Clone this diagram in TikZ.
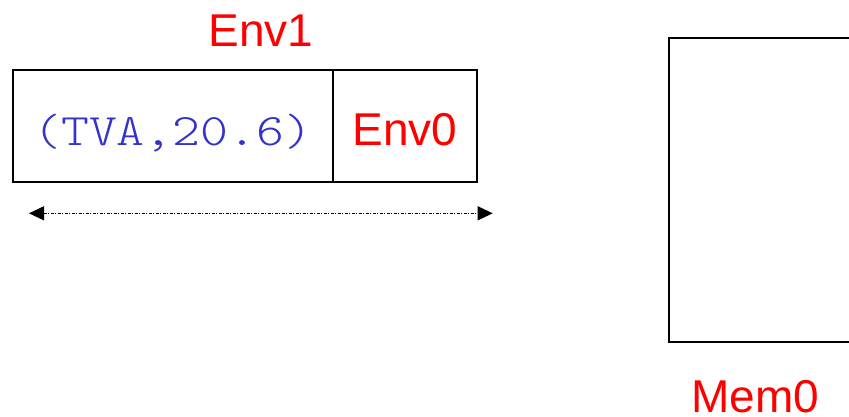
\documentclass[tikz,border=0pt]{standalone}
\usepackage{fontspec}
\setmainfont{Liberation Sans}
\newfontfamily\tvafont{Latin Modern Mono Light}
\usetikzlibrary{arrows.meta,positioning}
\definecolor{tvablue}{RGB}{51,51,204}
\tikzset{
	cell/.style = {draw, line width=2pt, rectangle, inner sep=0pt, outer sep=0pt, minimum height=111.7pt, text height=40pt, text depth=0pt},
	redlabel/.style = {text=red, font=\fontsize{46}{50}\selectfont},
	bluetext/.style = {text=tvablue, font=\tvafont\fontsize{45}{50}\selectfont},
	span/.style = {line width=1pt, dash pattern=on 3pt off 1.5pt on 1pt off 1.5pt, {Triangle[length=15pt,width=14pt]}-{Triangle[length=15pt,width=14pt]}}
}

\begin{document}
\begin{tikzpicture}[x=1pt, y=-1pt]
		\useasboundingbox (0,0) rectangle (849,416);
		
		\node[cell, bluetext, minimum width=320pt] (tva) at (172.7,125.8) {\scalebox{1.18}[1]{(TVA,20.6)}};
		\node[cell, redlabel, minimum width=144.6pt, right=0pt of tva] (env0) {Env0};
		\node[redlabel, anchor=base] (env1) at (261,46.7) {Env1};
		
		\coordinate (left) at (29,213.3);
		\coordinate (right) at (492.7,213.3);
		\draw[span] (left) -- (right);
		
		\node[cell, minimum width=240pt, minimum height=304pt, anchor=north west] (mem0) at (669,37.7) {};
		\node[redlabel, anchor=base] (memlabel) at (755,412.7) {Mem0};
	\end{tikzpicture}
\end{document}
